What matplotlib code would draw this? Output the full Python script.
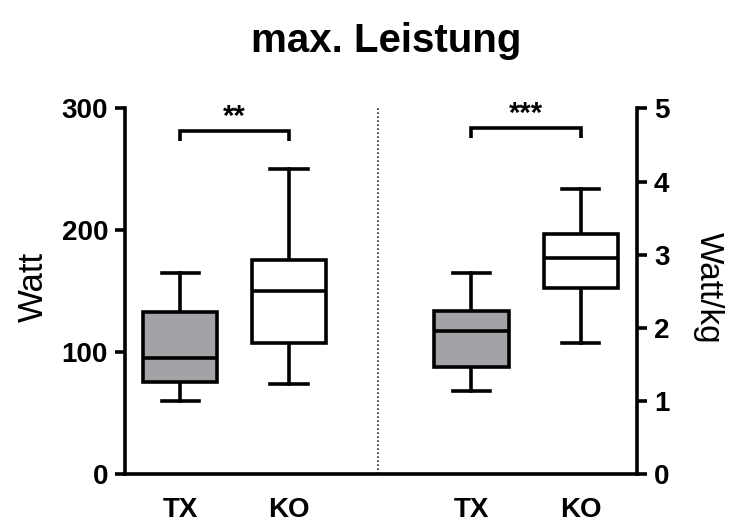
import matplotlib
matplotlib.use("Agg")
import matplotlib.pyplot as plt

plt.rcParams['font.family'] = ['Liberation Sans', 'DejaVu Sans']

# Five-number summaries per group (whisker low, Q1, median, Q3, whisker high)
groups = ["TX", "KO"]
watt_stats = {
    "TX": [60, 76, 95, 133, 165],
    "KO": [74, 108, 150, 176, 250],
}
wattkg_stats = {
    "TX": [1.14, 1.47, 1.96, 2.23, 2.75],
    "KO": [1.80, 2.55, 2.95, 3.28, 3.90],
}
box_colors = {"TX": "#A3A2A7", "KO": "#FFFFFF"}
watt_ticks = [0, 100, 200, 300]
wattkg_ticks = [0, 1, 2, 3, 4, 5]
sig_left = "**"
sig_right = "***"

LW = 2.6
fig = plt.figure(figsize=(7.32, 5.25), dpi=100)
ax = fig.add_axes([0.1708, 0.0966, 0.6995, 0.6971])
ax2 = ax.twinx()

pos_left = [0.505, 1.505]
pos_right = [3.18, 4.185]
divider = 2.32
width = 0.68


def to_stats(d):
    out = []
    for g in groups:
        lo, q1, med, q3, hi = d[g]
        out.append(dict(whislo=lo, q1=q1, med=med, q3=q3, whishi=hi,
                        fliers=[], label=g))
    return out


def draw(axis, stats, positions):
    bp = axis.bxp(stats, positions=positions, widths=width, patch_artist=True,
                  showfliers=False,
                  boxprops=dict(linewidth=LW, edgecolor="black"),
                  whiskerprops=dict(linewidth=LW, color="black"),
                  capprops=dict(linewidth=LW, color="black"),
                  medianprops=dict(linewidth=LW, color="black"),
                  capwidths=width * 0.5, manage_ticks=False)
    for patch, g in zip(bp["boxes"], groups):
        patch.set_facecolor(box_colors[g])
        patch.set_zorder(3)
    for med in bp["medians"]:
        med.set_zorder(4)
        med.set_solid_capstyle("butt")
    return bp


draw(ax, to_stats(watt_stats), pos_left)
draw(ax2, to_stats(wattkg_stats), pos_right)

ax.set_xlim(0, 4.70)
ax.set_ylim(0, 300)
ax2.set_ylim(0, 5)

ax.set_yticks(watt_ticks)
ax2.set_yticks(wattkg_ticks)
ax.set_xticks(pos_left + pos_right)
ax.set_xticklabels(groups + groups, fontsize=20, fontweight="bold")
ax.tick_params(axis="x", length=0, pad=16)

for a in (ax, ax2):
    a.spines["top"].set_visible(False)
    for s in ("left", "right", "bottom"):
        a.spines[s].set_linewidth(LW)
    a.tick_params(axis="y", length=7.2, width=LW, labelsize=20, pad=5)
    for lbl in a.get_yticklabels():
        lbl.set_fontweight("bold")
ax.spines["right"].set_visible(False)
ax2.spines["left"].set_visible(False)
ax2.spines["bottom"].set_visible(False)

ax.set_ylabel("Watt", fontsize=25)
ax.yaxis.set_label_coords(-0.146, 0.512)
ax2.set_ylabel("Watt/kg", fontsize=24, rotation=270)
ax2.yaxis.set_label_coords(1.17, 0.51)

# dotted divider between the two panels
ax.axvline(divider, ymin=0, ymax=1, color="#222222", linewidth=1.2,
           linestyle=(0, (1, 1.4)), zorder=1)

# significance brackets


def bracket(axis, x1, x2, top, leg, text):
    axis.plot([x1, x1, x2, x2], [top - leg, top, top, top - leg],
              color="black", linewidth=LW, clip_on=False,
              solid_capstyle="butt", solid_joinstyle="miter")
    axis.text((x1 + x2) / 2, top + leg * 0.05, text, ha="center", va="bottom",
              fontsize=21, fontweight="bold")


bracket(ax, pos_left[0], pos_left[1], 281, 8, sig_left)
bracket(ax2, pos_right[0], pos_right[1], 4.73, 0.13, sig_right)

fig.text(0.527, 0.922, "max. Leistung", ha="center", va="center",
         fontsize=29, fontweight="bold")

fig.savefig("out.png", dpi=100)
